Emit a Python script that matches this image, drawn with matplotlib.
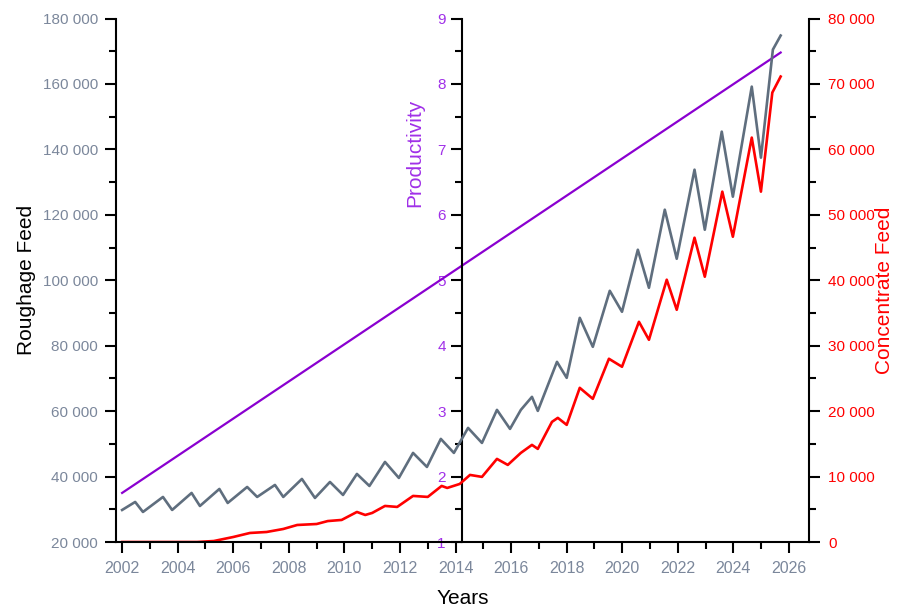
import matplotlib
matplotlib.use('Agg')
import matplotlib.pyplot as plt
from matplotlib.ticker import MultipleLocator, FuncFormatter

plt.rcParams['font.family'] = ['Liberation Sans', 'DejaVu Sans']

# Roughage feed (left axis), turning points
rough_years = [2002.0, 2002.47, 2002.75, 2003.47, 2003.8, 2004.5, 2004.8, 2005.5, 2005.8,
               2006.5, 2006.86, 2007.5, 2007.8, 2008.47, 2008.94, 2009.48, 2009.95,
               2010.45, 2010.9, 2011.46, 2011.96, 2012.47, 2012.97, 2013.47, 2013.94,
               2014.45, 2014.95, 2015.49, 2015.96, 2016.35, 2016.75, 2016.96, 2017.65,
               2018.0, 2018.47, 2018.94, 2019.55, 2019.99, 2020.56, 2020.96, 2021.53,
               2021.96, 2022.6, 2022.97, 2023.58, 2023.98, 2024.66, 2024.99, 2025.42,
               2025.7]
rough_feed = [29790, 32240, 29180, 33770, 29790, 34990, 31010, 36210, 31930,
              36820, 33770, 37440, 33770, 39270, 33460, 38350, 34380,
              40800, 37130, 44470, 39580, 47230, 42940, 51510, 47230,
              54870, 50280, 60380, 54570, 60380, 64360, 60070, 75060,
              70170, 88520, 79650, 96780, 90360, 109320, 97700, 121560,
              106570, 133790, 115440, 145420, 125540, 159180, 137470, 170500,
              174790]

# Concentrate feed (right axis)
conc_years = [2002.0, 2004.7, 2005.3, 2006.0, 2006.6, 2007.2, 2007.8, 2008.3, 2009.0,
              2009.4, 2009.9, 2010.45, 2010.75, 2011.0, 2011.46, 2011.9, 2012.47,
              2013.0, 2013.5, 2013.7, 2014.15, 2014.52, 2014.95, 2015.49, 2015.88,
              2016.35, 2016.75, 2016.96, 2017.47, 2017.68, 2018.0, 2018.47, 2018.94,
              2019.52, 2019.99, 2020.6, 2020.96, 2021.6, 2021.96, 2022.6, 2022.97,
              2023.6, 2023.98, 2024.66, 2024.99, 2025.4, 2025.7]
conc_feed = [0, 0, 150, 765, 1380, 1530, 1990, 2600, 2750,
             3200, 3370, 4590, 4130, 4440, 5510, 5360, 7040,
             6890, 8570, 8260, 8870, 10250, 9950, 12700, 11780,
             13620, 14840, 14230, 18360, 18970, 17900, 23560, 21880,
             28000, 26780, 33650, 30900, 40080, 35490, 46500, 40540,
             53540, 46650, 61800, 53540, 68680, 71130]

# Productivity (middle axis)
prod_years = [2002.0, 2025.7]
productivity = [1.75, 8.48]

tick_gray = '#7b879b'
purple_line = '#8a00d0'
purple_text = '#a030e8'
gray_line = '#5f6e7e'
red = '#ff0000'


def space_thousands(v, pos):
    return f"{int(round(v)):,}".replace(",", " ")


fig = plt.figure(figsize=(9.03, 6.08), dpi=100)
ax = fig.add_axes([116/903, 1-542/608, (809-116)/903, (542-18.5)/608])
ax_prod = ax.twinx()
ax_conc = ax.twinx()

ax.set_zorder(3)
ax_conc.set_zorder(2)
ax_prod.set_zorder(1)
ax.patch.set_visible(False)
ax_conc.patch.set_visible(False)

ax_prod.plot(prod_years, productivity, color=purple_line, lw=1.6)
ax.plot(rough_years, rough_feed, color=gray_line, lw=1.9)
ax_conc.plot(conc_years, conc_feed, color=red, lw=1.9)

ax.set_xlim(2001.78, 2026.72)
ax.set_ylim(20000, 180000)
ax_prod.set_ylim(1, 9)
ax_conc.set_ylim(0, 80000)

for a in (ax, ax_prod, ax_conc):
    for s in a.spines.values():
        s.set_visible(False)
        s.set_linewidth(1.5)
        s.set_color('black')

ax.spines['left'].set_visible(True)
ax.spines['bottom'].set_visible(True)
ax_conc.spines['right'].set_visible(True)
ax_prod.spines['left'].set_visible(True)
ax_prod.spines['left'].set_position(('axes', 0.5))
ax_prod.yaxis.set_ticks_position('left')
ax_prod.yaxis.set_label_position('left')

ax.xaxis.set_major_locator(MultipleLocator(2))
ax.xaxis.set_minor_locator(MultipleLocator(1))
ax.yaxis.set_major_locator(MultipleLocator(20000))
ax.yaxis.set_minor_locator(MultipleLocator(10000))
ax.yaxis.set_major_formatter(FuncFormatter(space_thousands))
ax_prod.yaxis.set_major_locator(MultipleLocator(1))
ax_prod.yaxis.set_minor_locator(MultipleLocator(0.5))
ax_conc.yaxis.set_major_locator(MultipleLocator(10000))
ax_conc.yaxis.set_minor_locator(MultipleLocator(5000))
ax_conc.yaxis.set_major_formatter(FuncFormatter(space_thousands))

ax.tick_params(axis='x', which='major', length=8, width=1.5, direction='out',
               labelsize=11.5, labelcolor=tick_gray, pad=6)
ax.tick_params(axis='x', which='minor', length=5, width=1.5, direction='out')
ax.tick_params(axis='y', which='major', length=8, width=1.5, direction='out',
               labelsize=11, labelcolor=tick_gray, pad=5)
ax.tick_params(axis='y', which='minor', length=5, width=1.5, direction='out')
ax_prod.tick_params(axis='y', which='major', length=8, width=1.5, direction='out',
                    labelsize=11, labelcolor=purple_text, pad=4)
ax_prod.tick_params(axis='y', which='minor', length=5, width=1.5, direction='out')
ax_conc.tick_params(axis='y', which='major', length=8, width=1.5, direction='out',
                    labelsize=11, labelcolor=red, pad=6)
ax_conc.tick_params(axis='y', which='minor', length=5, width=1.5, direction='out')

ax.set_xlabel('Years', fontsize=15, color='black')
ax.xaxis.set_label_coords(0.5, -0.09)
ax.set_ylabel('Roughage Feed', fontsize=15, color='black')
ax.yaxis.set_label_coords(-0.115, 0.5)
ax_prod.set_ylabel('Productivity', fontsize=15, color=purple_text)
ax_prod.yaxis.set_label_coords(0.445, 0.744)
ax_conc.set_ylabel('Concentrate Feed', fontsize=15, color=red, rotation=90)
ax_conc.yaxis.set_label_coords(1.095, 0.48)

fig.savefig('out.png', dpi=100, facecolor='white')
